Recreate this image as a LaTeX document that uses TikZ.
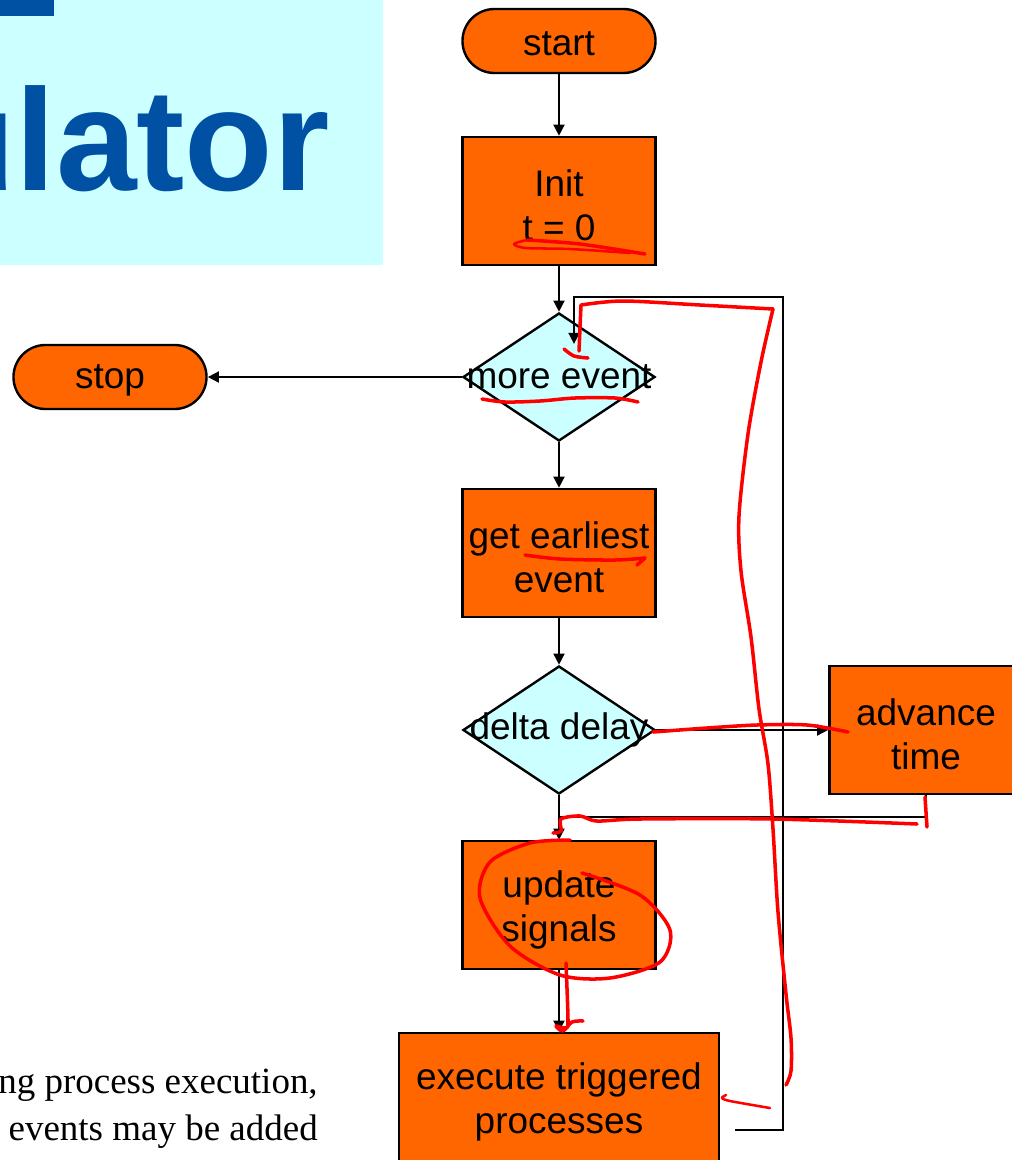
\documentclass[tikz,border=0pt]{standalone}
\usepackage{fontspec}
\setmainfont{Liberation Sans}
\newfontfamily\notefont{Liberation Serif}
\usetikzlibrary{shapes.geometric,arrows.meta}
\definecolor{boxorange}{HTML}{FF6600}
\definecolor{testcyan}{HTML}{CCFFFF}
\definecolor{titleblue}{HTML}{0051A3}
\definecolor{inkred}{HTML}{FF0000}
\tikzset{
  flow/.style={draw=black, line width=1.7pt, fill=boxorange, minimum width=4.825cm,
    minimum height=3.2cm, inner sep=0pt, align=center, text height=2cm,
    font=\fontsize{26.3}{31.2}\selectfont},
  terminal/.style={flow, minimum height=1.6cm, rounded corners=0.8cm, text height=0.75cm},
  test/.style={draw=black, line width=1.7pt, diamond, fill=testcyan, minimum width=4.8cm,
    minimum height=3.2cm, inner sep=0pt, font=\fontsize{26.3}{31.2}\selectfont},
  link/.style={line width=1.7pt, -{Triangle[length=0.28cm,width=0.27cm]}},
  wire/.style={line width=1.7pt},
  ink/.style={draw=inkred, line width=2.5pt, line cap=round, line join=round}
}
\begin{document}
\begin{tikzpicture}[x=0.025cm,y=-0.025cm]
\useasboundingbox (0,0) rectangle (1012,1160);

% Title panel
\fill[testcyan] (0,0) rectangle (383,265);
\begin{scope}
\clip (0,0) rectangle (383,265);
\fill[titleblue] (0,0) rectangle (54,16);
\node[anchor=base east, inner sep=0pt, text=titleblue, font=\bfseries\fontsize{103}{110}\selectfont] (title) at (330,190) {ulator};
\end{scope}

% Note text
\node[anchor=base east, inner sep=0pt, font=\notefont\fontsize{26.3}{31}\selectfont] (note1) at (318,1093) {ng process execution,};
\node[anchor=base east, inner sep=0pt, font=\notefont\fontsize{26.3}{31}\selectfont] (note2) at (318,1140) {events may be added};

% Flow nodes
\node[terminal] (start) at (559,41) {start};
\node[flow] (init) at (559,201) {Init\\t = 0};
\node[test] (more) at (559,377) {\makebox[0pt]{more event}};
\node[terminal] (stop) at (110,377) {stop};
\node[flow] (getev) at (559,553) {get earliest\\event};
\node[test] (delta) at (559,730) {\makebox[0pt]{delta delay}};
\node[flow] (advance) at (926,730) {advance\\time};
\node[flow] (update) at (559,905) {update\\signals};
\node[flow, minimum width=8cm] (exec) at (559,1097) {execute triggered\\processes};

% Connectors
\draw[link] (start) -- (init);
\draw[link] (init) -- (more);
\draw[link] (more) -- (stop);
\draw[link] (more) -- (getev);
\draw[link] (getev) -- (delta);
\draw[link] (delta) -- (advance);
\draw[link] (delta) -- (update);
\draw[link] (update) -- (exec);
\coordinate (merge) at (559,817);
\draw[wire] (advance.south) |- (merge);
\coordinate (loopstart) at (735,1130);
\coordinate (loopend) at (574,344);
\draw[link] (loopstart) -- (783,1130) -- (783,297) -| (loopend);

% Red ink
\draw[ink] plot[smooth] coordinates {(527,240) (580,244) (645,254)};
\draw[ink, line width=1.8pt] plot[smooth] coordinates {(527,240) (514,244) (526,248) (570,249) (630,253)};
\draw[ink] plot[smooth] coordinates {(482,399) (505,402) (540,401) (575,398) (615,398) (638,402)};
\draw[ink] plot[smooth] coordinates {(564,349) (574,356) (588,358)};
\draw[ink] (579,351) -- (581,305) plot[smooth] coordinates {(581,305) (623,301) (700,305) (773,309)};
\draw[ink] plot[smooth] coordinates {(773,309) (761,362) (748,434) (739,516) (741,571) (751,637) (759,709) (768,764) (773,829) (778,912) (786,994) (791,1038) (791,1071) (786,1085)};
\draw[ink] plot[smooth] coordinates {(525,555) (560,559) (615,560) (645,558)} -- (637,565);
\draw[ink] plot[smooth] coordinates {(653,732) (707,728) (757,725) (807,725) (848,732)};
\draw[ink] plot[smooth] coordinates {(553,833) (561,831) (561,819) (580,816) (597,821) (640,819) (773,819) (917,824)};
\draw[ink] (925,797) -- (927,827);
\draw[ink] plot[smooth] coordinates {(582,873) (640,895) (670,930) (660,962) (610,978) (560,975) (510,946) (480,898) (490,862) (530,843) (570,840)};
\draw[ink] plot[smooth] coordinates {(566,963) (568,1020) (566,1028) (556,1026) (563,1031) (572,1022) (583,1021)};
\draw[ink, line width=1.8pt] plot[smooth] coordinates {(726,1095) (722,1098) (730,1101) (770,1108)};
\end{tikzpicture}
\end{document}
